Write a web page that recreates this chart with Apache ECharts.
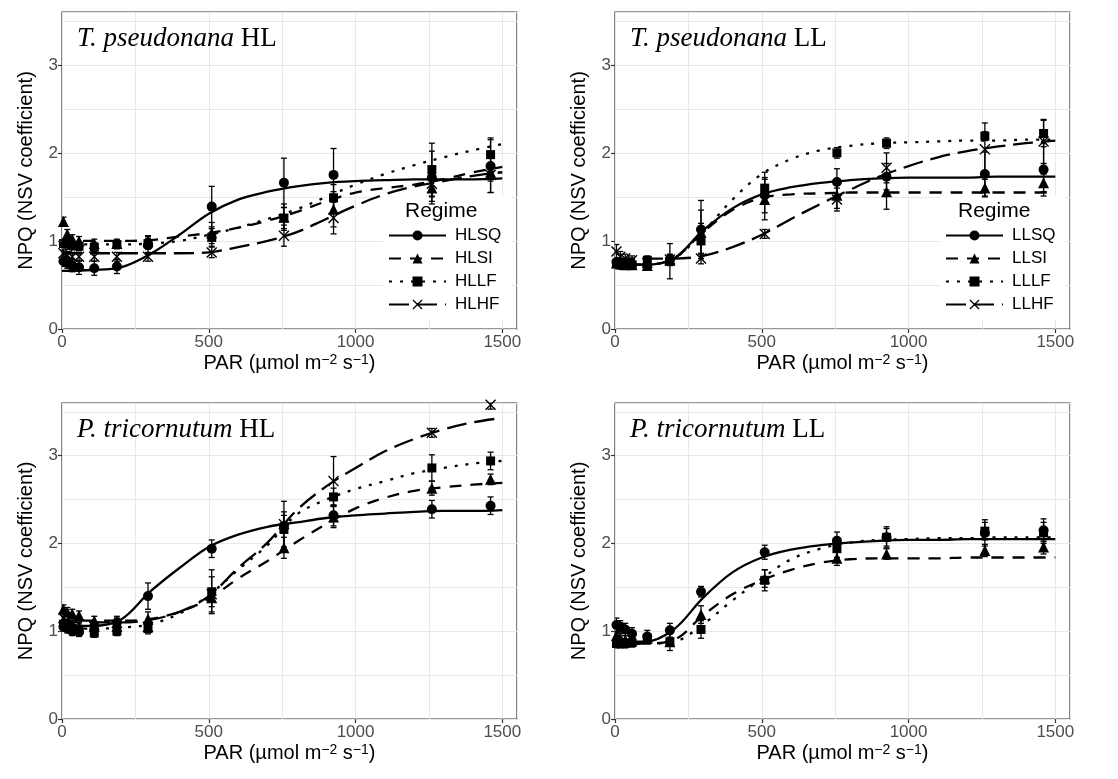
<!DOCTYPE html>
<html><head><meta charset="utf-8">
<script src="https://cdn.jsdelivr.net/npm/echarts@6/dist/echarts.min.js"></script>
<style>html,body{margin:0;padding:0;background:#fff}#c{width:1118px;height:779px}</style>
</head><body><div id="c"></div>
<script>
// ---------- data ----------
const PAR = [5, 18, 35, 58, 110, 187, 293, 510, 756, 925, 1260, 1460];
const FIT_PAR = [0, 100, 200, 300, 400, 500, 600, 700, 800, 900, 1000, 1100, 1200, 1300, 1400, 1500];
const X_TICKS = [0, 500, 1000, 1500];
const Y_TICKS = [0, 1, 2, 3];
const PANEL_TITLES = [['T. pseudonana', 'HL'], ['T. pseudonana', 'LL'], ['P. tricornutum', 'HL'], ['P. tricornutum', 'LL']];
const HL_NAMES = ['HLSQ', 'HLSI', 'HLLF', 'HLHF'];
const LL_NAMES = ['LLSQ', 'LLSI', 'LLLF', 'LLHF'];

// T. pseudonana HL
const tpHL_pts = [
  [0.77, 0.75, 0.72, 0.70, 0.69, 0.71, 0.95, 1.39, 1.66, 1.75, 1.72, 1.85],
  [1.22, 1.08, 1.02, 1.00, 0.97, 0.97, 1.00, 1.09, 1.27, 1.36, 1.60, 1.78],
  [0.97, 0.97, 0.95, 0.94, 0.93, 0.96, 0.97, 1.04, 1.26, 1.49, 1.81, 1.98],
  [0.86, 0.84, 0.82, 0.82, 0.82, 0.82, 0.82, 0.87, 1.06, 1.26, 1.65, 1.75]
];
const tpHL_err = [
  [0.06, 0.06, 0.07, 0.08, 0.08, 0.08, 0.10, 0.23, 0.28, 0.30, 0.30, 0.30],
  [0.05, 0.05, 0.05, 0.05, 0.05, 0.05, 0.06, 0.12, 0.15, 0.20, 0.10, 0.10],
  [0.05, 0.05, 0.05, 0.05, 0.05, 0.05, 0.06, 0.10, 0.12, 0.15, 0.30, 0.19],
  [0.04, 0.04, 0.05, 0.05, 0.05, 0.05, 0.05, 0.06, 0.12, 0.18, 0.20, 0.20]
];
const tpHL_fit = [
  [0.66, 0.67, 0.70, 0.85, 1.07, 1.31, 1.47, 1.56, 1.62, 1.66, 1.68, 1.69, 1.70, 1.70, 1.70, 1.71],
  [1.00, 1.00, 1.00, 1.01, 1.05, 1.09, 1.15, 1.23, 1.33, 1.45, 1.55, 1.60, 1.64, 1.70, 1.78, 1.84],
  [0.96, 0.96, 0.96, 0.97, 1.00, 1.07, 1.15, 1.25, 1.36, 1.50, 1.64, 1.76, 1.86, 1.95, 2.03, 2.10],
  [0.86, 0.86, 0.86, 0.86, 0.86, 0.87, 0.93, 1.00, 1.10, 1.25, 1.40, 1.53, 1.62, 1.68, 1.74, 1.78]
];
// T. pseudonana LL
const tpLL_pts = [
  [0.76, 0.74, 0.74, 0.73, 0.72, 0.79, 1.13, 1.52, 1.67, 1.73, 1.76, 1.81],
  [0.75, 0.74, 0.73, 0.73, 0.72, 0.78, 1.10, 1.47, 1.52, 1.56, 1.60, 1.66],
  [0.74, 0.73, 0.74, 0.73, 0.78, 0.77, 1.00, 1.60, 2.00, 2.11, 2.19, 2.22],
  [0.88, 0.82, 0.80, 0.78, 0.75, 0.79, 0.80, 1.08, 1.47, 1.83, 2.04, 2.13]
];
const tpLL_err = [
  [0.05, 0.05, 0.05, 0.05, 0.05, 0.06, 0.33, 0.20, 0.15, 0.15, 0.25, 0.30],
  [0.05, 0.05, 0.05, 0.05, 0.05, 0.06, 0.25, 0.23, 0.15, 0.20, 0.10, 0.10],
  [0.05, 0.05, 0.05, 0.05, 0.05, 0.20, 0.20, 0.18, 0.06, 0.06, 0.05, 0.15],
  [0.08, 0.06, 0.05, 0.05, 0.05, 0.05, 0.06, 0.05, 0.13, 0.17, 0.30, 0.25]
];
const tpLL_fit = [
  [0.73, 0.73, 0.80, 1.12, 1.37, 1.53, 1.61, 1.66, 1.69, 1.71, 1.72, 1.72, 1.72, 1.73, 1.73, 1.73],
  [0.73, 0.73, 0.80, 1.10, 1.35, 1.49, 1.53, 1.54, 1.55, 1.55, 1.55, 1.55, 1.55, 1.55, 1.55, 1.55],
  [0.73, 0.73, 0.80, 1.10, 1.47, 1.76, 1.93, 2.03, 2.08, 2.11, 2.12, 2.13, 2.14, 2.14, 2.15, 2.15],
  [0.80, 0.80, 0.80, 0.83, 0.93, 1.07, 1.25, 1.42, 1.58, 1.73, 1.85, 1.95, 2.02, 2.07, 2.11, 2.14]
];
// P. tricornutum HL
const ptHL_pts = [
  [1.05, 1.03, 1.00, 0.99, 1.02, 1.10, 1.40, 1.94, 2.20, 2.32, 2.39, 2.43],
  [1.25, 1.22, 1.20, 1.18, 1.12, 1.10, 1.14, 1.38, 1.95, 2.30, 2.63, 2.73],
  [1.08, 1.05, 1.03, 1.02, 0.98, 1.00, 1.03, 1.45, 2.16, 2.53, 2.86, 2.94],
  [1.15, 1.12, 1.10, 1.08, 1.05, 1.05, 1.05, 1.42, 2.22, 2.71, 3.26, 3.58]
];
const ptHL_err = [
  [0.05, 0.05, 0.05, 0.05, 0.07, 0.07, 0.15, 0.10, 0.28, 0.12, 0.10, 0.10],
  [0.05, 0.05, 0.05, 0.05, 0.05, 0.05, 0.08, 0.10, 0.12, 0.12, 0.08, 0.06],
  [0.05, 0.05, 0.05, 0.05, 0.05, 0.05, 0.06, 0.25, 0.20, 0.10, 0.15, 0.10],
  [0.05, 0.05, 0.05, 0.05, 0.05, 0.05, 0.06, 0.20, 0.10, 0.28, 0.05, 0.05]
];
const ptHL_fit = [
  [1.06, 1.06, 1.13, 1.45, 1.72, 1.96, 2.10, 2.19, 2.24, 2.29, 2.32, 2.34, 2.36, 2.37, 2.37, 2.38],
  [1.12, 1.12, 1.12, 1.14, 1.22, 1.37, 1.60, 1.80, 2.02, 2.22, 2.40, 2.52, 2.60, 2.64, 2.67, 2.69],
  [1.03, 1.03, 1.04, 1.08, 1.20, 1.41, 1.70, 1.98, 2.33, 2.50, 2.62, 2.71, 2.80, 2.86, 2.91, 2.94],
  [1.10, 1.10, 1.10, 1.13, 1.22, 1.40, 1.72, 2.01, 2.38, 2.65, 2.86, 3.05, 3.19, 3.30, 3.38, 3.43]
];
// P. tricornutum LL (three regimes visible)
const ptLL_pts = [
  [1.07, 1.05, 1.02, 0.97, 0.94, 1.01, 1.45, 1.90, 2.03, 2.07, 2.12, 2.15],
  [0.95, 0.92, 0.90, 0.90, 0.92, 0.88, 1.19, 1.60, 1.83, 1.88, 1.92, 1.96],
  [0.86, 0.86, 0.86, 0.87, 0.92, 0.88, 1.02, 1.58, 1.94, 2.07, 2.14, 2.12]
];
const ptLL_err = [
  [0.08, 0.07, 0.07, 0.07, 0.07, 0.08, 0.06, 0.08, 0.10, 0.12, 0.15, 0.13],
  [0.05, 0.05, 0.05, 0.05, 0.05, 0.05, 0.10, 0.10, 0.08, 0.06, 0.07, 0.08],
  [0.05, 0.05, 0.05, 0.05, 0.05, 0.10, 0.10, 0.12, 0.10, 0.10, 0.10, 0.12]
];
const ptLL_fit = [
  [0.89, 0.88, 1.02, 1.38, 1.67, 1.84, 1.93, 1.98, 2.01, 2.03, 2.04, 2.04, 2.05, 2.05, 2.05, 2.05],
  [0.86, 0.86, 0.90, 1.18, 1.42, 1.58, 1.70, 1.78, 1.82, 1.83, 1.83, 1.83, 1.84, 1.84, 1.84, 1.84],
  [0.86, 0.86, 0.88, 1.08, 1.35, 1.60, 1.82, 1.94, 2.01, 2.04, 2.05, 2.06, 2.06, 2.07, 2.07, 2.07]
];

// ---------- styles ----------
const X_PATH = 'path://M0,0.9 L0.9,0 L10,9.1 L9.1,10 Z M9.1,0 L10,0.9 L0.9,10 L0,9.1 Z';
const SYMBOLS = ['circle', 'triangle', 'rect', X_PATH];
const SYM_SIZE = [10, 11, 9, 11];
const DASHES = ['solid', [12, 9], [3, 8], [20, 8]];
const SANS = 'Liberation Sans';
const SERIF = 'Liberation Serif';

const GRIDS = [
  {left: 62, top: 12, width: 455, height: 317},
  {left: 615, top: 12, width: 455, height: 317},
  {left: 62, top: 403, width: 455, height: 316},
  {left: 615, top: 403, width: 455, height: 316}
];
const PANELS = [
  {names: HL_NAMES, pts: tpHL_pts, err: tpHL_err, fit: tpHL_fit},
  {names: LL_NAMES, pts: tpLL_pts, err: tpLL_err, fit: tpLL_fit},
  {names: HL_NAMES, pts: ptHL_pts, err: ptHL_err, fit: ptHL_fit},
  {names: LL_NAMES, pts: ptLL_pts, err: ptLL_err, fit: ptLL_fit}
];

function renderErr(params, api) {
  const x = api.value(0), lo = api.value(1), hi = api.value(2);
  const p1 = api.coord([x, lo]), p2 = api.coord([x, hi]);
  const w = 3;
  const st = {stroke: '#000', lineWidth: 1.3};
  return {type: 'group', children: [
    {type: 'line', shape: {x1: p1[0], y1: p1[1], x2: p2[0], y2: p2[1]}, style: st},
    {type: 'line', shape: {x1: p1[0] - w, y1: p1[1], x2: p1[0] + w, y2: p1[1]}, style: st},
    {type: 'line', shape: {x1: p2[0] - w, y1: p2[1], x2: p2[0] + w, y2: p2[1]}, style: st}
  ]};
}

const grid = GRIDS.map(g => Object.assign({show: true, backgroundColor: '#fff', borderColor: '#333', borderWidth: 1.2}, g));
const GRID_LINE = {show: true, lineStyle: {color: '#e8e8e8', width: 1}};
const xMain = GRIDS.map((g, i) => ({
  type: 'value', gridIndex: i, min: 0, max: 1550, interval: 500,
  name: 'PAR (µmol m{sup|−2} s{sup|−1})', nameLocation: 'middle', nameGap: 24,
  nameTextStyle: {fontFamily: SANS, fontSize: 20, color: '#000',
    rich: {sup: {fontFamily: SANS, fontSize: 14, color: '#000', verticalAlign: 'top'}}},
  axisLine: {show: false},
  axisTick: {show: true, length: 4, lineStyle: {color: '#333', width: 1.2}, customValues: X_TICKS},
  axisLabel: {fontFamily: SANS, fontSize: 17, color: '#4d4d4d', margin: 5, customValues: X_TICKS,
    formatter: v => String(v)},
  splitLine: {show: false}, z: 10
}));
const xGridAx = GRIDS.map((g, i) => ({
  type: 'value', gridIndex: i, min: 0, max: 1550, interval: 250,
  axisLine: {show: false}, axisTick: {show: false}, axisLabel: {show: false},
  splitLine: GRID_LINE
}));
const yMain = GRIDS.map((g, i) => ({
  type: 'value', gridIndex: i, min: 0, max: 3.6, interval: 1,
  name: 'NPQ (NSV coefficient)', nameLocation: 'middle', nameGap: 26,
  nameTextStyle: {fontFamily: SANS, fontSize: 20, color: '#000'},
  axisLine: {show: false},
  axisTick: {show: true, length: 4, lineStyle: {color: '#333', width: 1.2}, customValues: Y_TICKS},
  axisLabel: {fontFamily: SANS, fontSize: 17, color: '#4d4d4d', margin: 4, customValues: Y_TICKS,
    formatter: v => String(v)},
  splitLine: {show: false}, z: 10
}));
const yGridAx = GRIDS.map((g, i) => ({
  type: 'value', gridIndex: i, min: 0, max: 3.6, interval: 0.5,
  axisLine: {show: false}, axisTick: {show: false}, axisLabel: {show: false},
  splitLine: GRID_LINE
}));

const lineSeries = [], otherSeries = [];
PANELS.forEach((p, pi) => {
  p.fit.forEach((f, k) => {
    lineSeries.push({
      type: 'line', name: p.names[k], xAxisIndex: pi, yAxisIndex: pi,
      data: FIT_PAR.map((x, j) => [x, f[j]]),
      smooth: 0.35, showSymbol: false,
      symbol: SYMBOLS[k], symbolSize: SYM_SIZE[k],
      lineStyle: {color: '#000', width: 2.3, type: DASHES[k]},
      itemStyle: {color: '#000'}, z: 3, silent: true, animation: false
    });
  });
  p.pts.forEach((v, k) => {
    otherSeries.push({
      type: 'custom', name: p.names[k] + ' err', xAxisIndex: pi, yAxisIndex: pi,
      renderItem: renderErr, clip: true, silent: true, animation: false, z: 4,
      data: PAR.map((x, j) => [x, v[j] - p.err[k][j], v[j] + p.err[k][j]])
    });
    otherSeries.push({
      type: 'scatter', name: p.names[k] + ' pts', xAxisIndex: pi, yAxisIndex: pi,
      data: PAR.map((x, j) => [x, v[j]]),
      symbol: SYMBOLS[k], symbolSize: SYM_SIZE[k],
      itemStyle: {color: '#000', opacity: 1}, z: 5, silent: true, animation: false
    });
  });
});

const title = PANELS.map((p, i) => ({
  text: '{i|' + PANEL_TITLES[i][0] + '} ' + PANEL_TITLES[i][1],
  left: GRIDS[i].left + 10, top: GRIDS[i].top + 8,
  textStyle: {fontFamily: SERIF, fontSize: 27, fontWeight: 'normal', color: '#000',
    rich: {i: {fontFamily: SERIF, fontSize: 27, fontStyle: 'italic', color: '#000'}}}
}));

const legendBase = {
  orient: 'vertical', itemWidth: 57, itemHeight: 12.5, itemGap: 6,
  backgroundColor: '#fff', padding: [31, 10, 6, 5],
  textStyle: {fontFamily: SANS, fontSize: 17, color: '#000', padding: [0, 0, 0, 4]},
  selectedMode: false
};
const legend = [
  Object.assign({}, legendBase, {left: 383, top: 196, data: HL_NAMES}),
  Object.assign({}, legendBase, {left: 940, top: 196, data: LL_NAMES})
];

const graphic = [
  {type: 'text', left: 405, top: 201, z: 100, style: {text: 'Regime', fontFamily: SANS, fontSize: 21, fill: '#000'}},
  {type: 'text', left: 958, top: 201, z: 100, style: {text: 'Regime', fontFamily: SANS, fontSize: 21, fill: '#000'}}
];

const chart = echarts.init(document.getElementById('c'), null, {renderer: 'canvas'});
chart.setOption({
  animation: false, backgroundColor: '#fff',
  title, grid, xAxis: xMain.concat(xGridAx), yAxis: yMain.concat(yGridAx), legend, graphic,
  series: lineSeries.concat(otherSeries)
});
</script></body></html>
